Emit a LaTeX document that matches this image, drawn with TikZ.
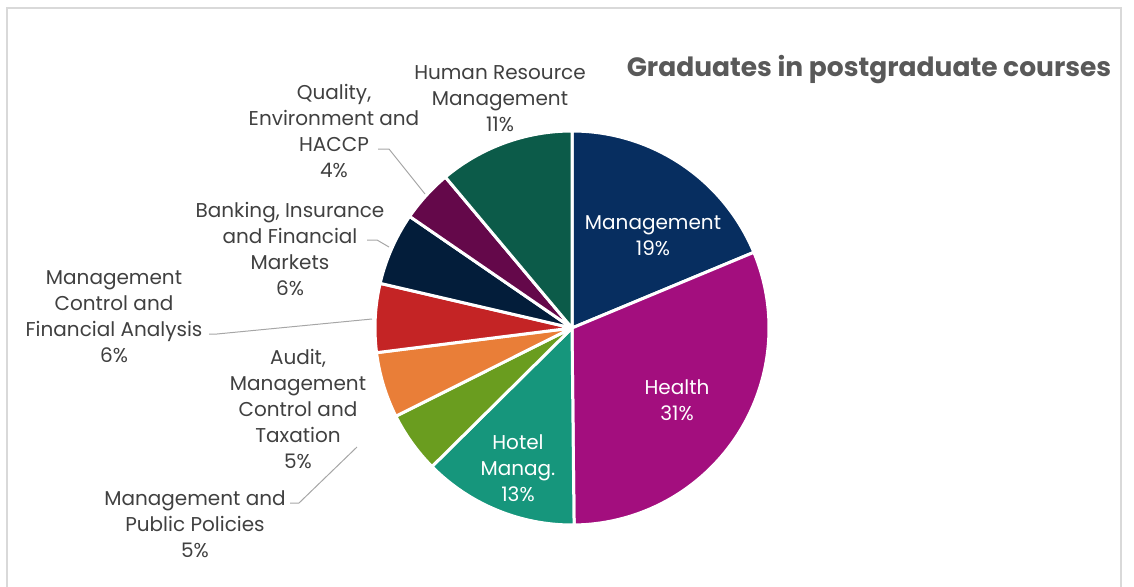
\documentclass[tikz,border=0pt]{standalone}
\usepackage{fontspec}
\setmainfont{Poppins}
\usepackage{tikz}
\usetikzlibrary{
	positioning
}
\definecolor{mgmtblue}{RGB}{7,46,96}
\definecolor{healthpink}{RGB}{163,14,126}
\definecolor{hotelteal}{RGB}{22,150,124}
\definecolor{policygreen}{RGB}{106,157,31}
\definecolor{auditorange}{RGB}{233,126,56}
\definecolor{controlred}{RGB}{196,36,37}
\definecolor{bankingnavy}{RGB}{3,29,58}
\definecolor{qualityplum}{RGB}{100,8,74}
\definecolor{hrgreen}{RGB}{12,91,73}
\definecolor{labelgray}{RGB}{64,64,64}
\definecolor{titlegray}{RGB}{89,89,89}
\definecolor{leadergray}{RGB}{166,166,166}
\definecolor{framegray}{RGB}{217,217,217}
\tikzset{
	slice/.style={draw=white,line width=3pt,line join=round},
	lbl/.style={align=center,inner sep=0pt,text=labelgray,
		font=\fontsize{20}{26}\selectfont},
	inlbl/.style={lbl,text=white},
	leader/.style={draw=leadergray,line width=1pt}
}

\begin{document}
\begin{tikzpicture}[x=1pt,y=1pt]
	\useasboundingbox (0,0) rectangle (1134,-586);
	\draw[framegray,line width=1.5pt] (7,-590) -- (7,-8) -- (1121,-8) -- (1121,-590);
	\coordinate (pie) at (572,-328);
	% slices, clockwise from the top
	\foreach \a/\b/\c in {90/22.6/mgmtblue, 22.6/-89.4/healthpink,
		-89.4/-135.3/hotelteal, -135.3/-153.4/policygreen,
		-153.4/-172.8/auditorange, -172.8/-193.1/controlred,
		-193.1/-214.5/bankingnavy, -214.5/-230/qualityplum, -230/-270/hrgreen}
		\filldraw[fill=\c,slice] (pie) -- ++(\a:197pt)
			arc[start angle=\a,end angle=\b,radius=197pt] -- cycle;
	\node[font=\fontsize{26.5}{30}\selectfont\bfseries,text=titlegray] (title) at (869,-70)
		{Graduates in postgraduate courses};
	\node[inlbl] (mgmt)   at (653,-236) {Management\\19\%};
	\node[inlbl] (health) at (677,-400) {Health\\31\%};
	\node[inlbl] (hotel)  at (518,-468) {Hotel\\Manag.\\13\%};
	\node[lbl] (hr)       at (500,-99)  {Human Resource\\Management\\11\%};
	\node[lbl] (quality)  at (334,-131) {Quality,\\Environment and\\HACCP\\4\%};
	\node[lbl] (banking)  at (290,-249) {Banking, Insurance\\and Financial\\Markets\\6\%};
	\node[lbl] (control)  at (114,-317) {Management\\Control and\\Financial Analysis\\6\%};
	\node[lbl] (audit)    at (298,-409) {Audit,\\Management\\Control and\\Taxation\\5\%};
	\node[lbl] (policy)   at (195,-524) {Management and\\Public Policies\\5\%};
	% leader lines
	\coordinate (quality-a) at (378,-149);
	\coordinate (quality-b) at (425,-194);
	\coordinate (banking-a) at (367,-240);
	\coordinate (banking-b) at (389,-247);
	\coordinate (control-a) at (209,-334);
	\coordinate (control-b) at (372,-319);
	\coordinate (policy-a)  at (290,-503);
	\coordinate (policy-b)  at (357,-447);
	\draw[leader] (quality-a) -- ++(11,0) -- (quality-b);
	\draw[leader] (banking-a) -- ++(10,0) -- (banking-b);
	\draw[leader] (control-a) -- ++(8,0)  -- (control-b);
	\draw[leader] (policy-a)  -- ++(9,0)  -- (policy-b);
\end{tikzpicture}
\end{document}
